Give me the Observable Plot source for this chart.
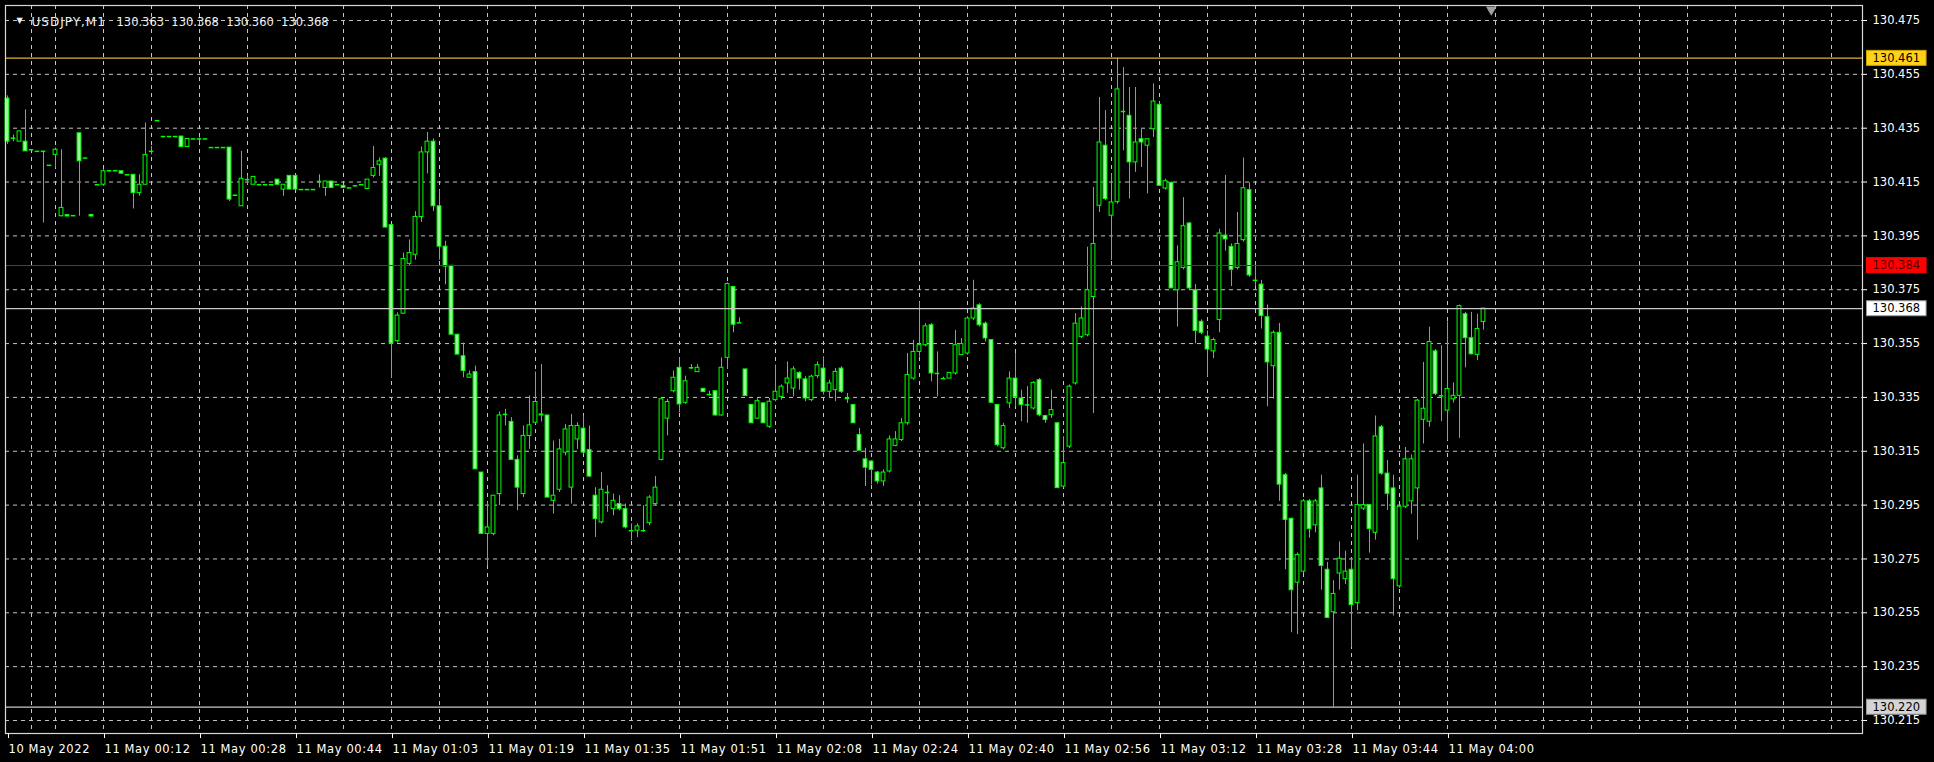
<!DOCTYPE html>
<html><head><meta charset="utf-8">
<script src="https://cdn.jsdelivr.net/npm/d3@7"></script>
<script src="https://cdn.jsdelivr.net/npm/@observablehq/plot@0.6"></script>
<style>
html,body{margin:0;padding:0;background:#000;overflow:hidden}
#chart{position:relative;width:1934px;height:762px;background:#000}
</style></head><body><div id="chart"></div>
<script>
// ---- data (USDJPY M1, one entry per bar) ----
const opens = [130.446,130.4313,130.43,130.43,130.427,130.4264,130.4264,130.4212,130.4251,130.4023,130.4027,130.4025,130.4331,130.4239,130.4028,130.414,130.414,130.4192,130.4192,130.419,130.4177,130.4177,130.4109,130.414,130.4264,130.4378,130.4319,130.4319,130.4319,130.4319,130.428,130.431,130.431,130.431,130.4278,130.4278,130.4278,130.4278,130.4101,130.406,130.4159,130.414,130.414,130.414,130.414,130.4159,130.4122,130.4173,130.4173,130.4122,130.4122,130.4122,130.4152,130.4128,130.4152,130.414,130.4136,130.4128,130.4136,130.414,130.4124,130.4173,130.4214,130.4237,130.399,130.3559,130.3661,130.3846,130.388,130.402,130.426,130.43,130.406,130.391,130.3839,130.3583,130.3503,130.3423,130.3444,130.3071,130.2843,130.2843,130.2991,130.3287,130.3259,130.3118,130.2991,130.3207,130.3256,130.3283,130.3283,130.2966,130.3007,130.3145,130.3015,130.3194,130.3234,130.3155,130.2985,130.2886,130.2997,130.2935,130.2954,130.2935,130.2855,130.2855,130.2855,130.2883,130.2954,130.3118,130.3271,130.3373,130.346,130.333,130.346,130.3444,130.3382,130.3361,130.3373,130.3283,130.3497,130.376,130.3627,130.3454,130.3322,130.3271,130.3328,130.3241,130.334,130.3352,130.3402,130.3383,130.3441,130.3417,130.334,130.3429,130.3457,130.3371,130.3377,130.3457,130.3346,130.3322,130.321,130.312,130.3112,130.3071,130.3038,130.3075,130.317,130.3192,130.3254,130.342,130.3519,130.3544,130.3618,130.3439,130.342,130.342,130.3439,130.3507,130.3513,130.3643,130.3692,130.3624,130.3563,130.3322,130.3161,130.3328,130.342,130.3346,130.3322,130.3309,130.3414,130.3281,130.3284,130.3254,130.3019,130.3167,130.3402,130.3575,130.3581,130.3723,130.4062,130.4285,130.4025,130.4075,130.4412,130.4396,130.4223,130.4309,130.4285,130.4346,130.4437,130.4126,130.4147,130.3748,130.3831,130.3996,130.3748,130.3631,130.3576,130.3521,130.3638,130.3951,130.3909,130.3831,130.3934,130.412,130.3785,130.3769,130.3648,130.3466,130.359,130.3061,130.2899,130.2662,130.2703,130.2964,130.2875,130.3012,130.271,130.2552,130.2696,130.2675,130.271,130.2586,130.2937,130.295,130.2847,130.3239,130.3067,130.3012,130.2648,130.2944,130.2964,130.3012,130.3267,130.326,130.3521,130.3356,130.3301,130.3343,130.3356,130.3659,130.357,130.3508,130.363];
const highs = [130.447,130.4325,130.4338,130.4418,130.427,130.4264,130.4264,130.4212,130.4276,130.427,130.4027,130.4025,130.4331,130.4239,130.4028,130.414,130.4196,130.4192,130.4192,130.419,130.4177,130.4177,130.4177,130.4369,130.4282,130.4378,130.4319,130.4319,130.4319,130.4319,130.431,130.431,130.4313,130.431,130.4278,130.4278,130.4278,130.4278,130.4101,130.4264,130.4173,130.4169,130.414,130.414,130.414,130.4159,130.414,130.4173,130.4173,130.4122,130.4122,130.4122,130.4177,130.4152,130.4152,130.414,130.4136,130.4128,130.4136,130.414,130.4159,130.4282,130.4239,130.424,130.399,130.3664,130.3886,130.3935,130.404,130.428,130.4334,130.431,130.412,130.393,130.3839,130.3583,130.3552,130.3448,130.3466,130.3071,130.296,130.2985,130.3296,130.3306,130.3275,130.3133,130.3244,130.3355,130.3444,130.3472,130.3283,130.3188,130.3194,130.325,130.3287,130.3256,130.3281,130.3244,130.3015,130.3071,130.3022,130.2991,130.2985,130.2954,130.288,130.288,130.2948,130.2985,130.3056,130.3345,130.3343,130.3448,130.3497,130.3429,130.3472,130.3472,130.3382,130.3373,130.3373,130.3497,130.3775,130.3762,130.3645,130.3454,130.3322,130.3345,130.3328,130.3346,130.347,130.3396,130.3482,130.3464,130.3445,130.3427,130.3433,130.3482,130.3501,130.3414,130.3457,130.3464,130.3365,130.3322,130.3235,130.3161,130.3115,130.3075,130.3081,130.3207,130.3223,130.3272,130.3513,130.3562,130.3704,130.3624,130.3624,130.3519,130.3425,130.3441,130.3599,130.3569,130.365,130.3785,130.3698,130.363,130.3563,130.3322,130.3254,130.3445,130.3513,130.3377,130.339,130.3408,130.342,130.3284,130.3377,130.3254,130.3204,130.3396,130.3661,130.3686,130.3908,130.413,130.4464,130.4415,130.418,130.461,130.4575,130.4501,130.4501,130.4346,130.4309,130.4515,130.4445,130.416,130.415,130.3913,130.4092,130.4,130.3769,130.3638,130.3597,130.357,130.3975,130.4175,130.392,130.4037,130.4239,130.4147,130.3838,130.3785,130.3693,130.3597,130.3625,130.3067,130.2902,130.2772,130.2971,130.2971,130.2971,130.3061,130.2737,130.2669,130.2813,130.2779,130.2751,130.3061,130.3177,130.295,130.3281,130.3246,130.3116,130.3061,130.295,130.3164,130.3136,130.3343,130.348,130.3611,130.3528,130.3542,130.3631,130.3404,130.3693,130.3666,130.3666,130.3659,130.368];
const lows = [130.429,130.43,130.43,130.4264,130.427,130.4264,130.3998,130.4212,130.4202,130.402,130.4022,130.4025,130.4023,130.4239,130.4022,130.414,130.4134,130.4192,130.4192,130.4181,130.4177,130.405,130.4097,130.414,130.4251,130.4378,130.4319,130.4319,130.4319,130.428,130.428,130.431,130.4297,130.431,130.4278,130.4278,130.4278,130.4078,130.4101,130.406,130.414,130.414,130.414,130.414,130.414,130.414,130.4097,130.4122,130.4122,130.4122,130.4122,130.4122,130.4128,130.4097,130.4128,130.414,130.4128,130.4128,130.4136,130.414,130.4124,130.4165,130.4171,130.398,130.342,130.3552,130.3658,130.3839,130.386,130.4,130.418,130.404,130.386,130.3768,130.3583,130.3509,130.3423,130.3423,130.3083,130.2843,130.2725,130.2836,130.2948,130.3244,130.3118,130.2929,130.2978,130.3157,130.325,130.3259,130.2978,130.2917,130.2997,130.3133,130.2954,130.3157,130.3139,130.3052,130.283,130.288,130.2923,130.291,130.2929,130.2861,130.2818,130.283,130.2849,130.2873,130.2948,130.3114,130.3207,130.3367,130.3293,130.3324,130.3454,130.3444,130.337,130.3355,130.3281,130.3281,130.3454,130.359,130.3627,130.3355,130.3254,130.3269,130.3254,130.3235,130.3334,130.334,130.3365,130.3352,130.3377,130.3334,130.3334,130.342,130.3359,130.3346,130.3334,130.3365,130.3328,130.3254,130.3152,130.3019,130.3025,130.3028,130.3019,130.3069,130.3167,130.3186,130.3247,130.3414,130.35,130.3538,130.3408,130.3352,130.342,130.342,130.3433,130.3507,130.3507,130.3636,130.3612,130.3556,130.333,130.3167,130.3155,130.3309,130.3315,130.326,130.3254,130.3303,130.3278,130.3254,130.3272,130.3013,130.3013,130.316,130.3396,130.3569,130.3575,130.329,130.4037,130.4081,130.3859,130.4068,130.4266,130.4087,130.4186,130.4204,130.4106,130.4316,130.4136,130.412,130.3755,130.3611,130.3824,130.375,130.3549,130.3583,130.3425,130.3494,130.359,130.3893,130.3762,130.3824,130.3927,130.3796,130.3762,130.3604,130.3315,130.3343,130.2964,130.271,130.2476,130.2469,130.2696,130.2827,130.2847,130.2634,130.2531,130.22,130.2634,130.2655,130.2421,130.2558,130.293,130.2772,130.282,130.3061,130.293,130.2538,130.2641,130.2937,130.2916,130.282,130.3177,130.3239,130.3356,130.326,130.3191,130.3329,130.3198,130.346,130.3508,130.3487,130.36];
const closes = [130.43,130.4313,130.4338,130.4264,130.427,130.4264,130.4264,130.4212,130.427,130.4054,130.4022,130.4025,130.4227,130.4239,130.4022,130.414,130.419,130.4192,130.4192,130.4181,130.4177,130.4109,130.414,130.4251,130.4264,130.4378,130.4319,130.4319,130.4319,130.428,130.431,130.431,130.431,130.431,130.4278,130.4278,130.4278,130.4085,130.4101,130.4162,130.4159,130.4169,130.414,130.414,130.414,130.414,130.414,130.4122,130.4122,130.4122,130.4122,130.4122,130.4152,130.4152,130.4128,130.414,130.4128,130.4128,130.4136,130.414,130.4159,130.4202,130.4227,130.3981,130.355,130.3654,130.3864,130.3886,130.402,130.426,130.43,130.406,130.391,130.3836,130.3583,130.3509,130.3448,130.3435,130.3083,130.2843,130.2867,130.2985,130.3283,130.3287,130.3118,130.3015,130.3207,130.3246,130.3333,130.3287,130.2978,130.2985,130.3157,130.3231,130.3244,130.3244,130.3145,130.3056,130.2898,130.3007,130.2997,130.2966,130.2935,130.2867,130.2855,130.2871,130.2855,130.2978,130.3015,130.3343,130.3333,130.3423,130.3324,130.341,130.346,130.346,130.337,130.3361,130.3283,130.346,130.3771,130.362,130.3627,130.3355,130.3254,130.3336,130.3254,130.3334,130.3371,130.339,130.342,130.3454,130.342,130.3346,130.3427,130.347,130.3371,130.3402,130.3445,130.3371,130.3346,130.3254,130.3152,130.3089,130.3081,130.3038,130.3071,130.3194,130.3194,130.3254,130.3433,130.3519,130.3544,130.3614,130.3439,130.3439,130.342,130.3441,130.3544,130.3548,130.3643,130.368,130.3618,130.3569,130.333,130.3173,130.3244,130.342,130.3352,130.3322,130.3322,130.3404,130.3284,130.3266,130.3303,130.3013,130.3106,130.339,130.3624,130.3643,130.3748,130.392,130.4297,130.4087,130.4074,130.4494,130.4412,130.4223,130.4297,130.4297,130.4309,130.4449,130.4136,130.4153,130.3755,130.3852,130.3986,130.3755,130.3597,130.359,130.3528,130.3563,130.3959,130.3937,130.3824,130.392,130.4127,130.3803,130.3785,130.3652,130.348,130.359,130.3026,130.2895,130.2634,130.2765,130.2964,130.2861,130.2964,130.2724,130.2531,130.262,130.2751,130.2703,130.2579,130.295,130.295,130.2861,130.3205,130.3067,130.2992,130.2675,130.2944,130.312,130.312,130.3338,130.3308,130.3556,130.3363,130.3356,130.3381,130.3356,130.3689,130.357,130.351,130.3604,130.368];

const timeLabels = ["10 May 2022","11 May 00:12","11 May 00:28","11 May 00:44","11 May 01:03","11 May 01:19","11 May 01:35","11 May 01:51","11 May 02:08","11 May 02:24","11 May 02:40","11 May 02:56","11 May 03:12","11 May 03:28","11 May 03:44","11 May 04:00"];
const barsPerLabel = 16;
const barsPerGrid = 8;
const dayStartBar = 4;
const priceTicks = [130.475,130.455,130.435,130.415,130.395,130.375,130.355,130.335,130.315,130.295,130.275,130.255,130.235,130.215];
const levelValues = [130.461, 130.384, 130.368, 130.220];
const symbol = "USDJPY,M1";

// ---- styles ----
const LIME = "#00ff00", BEAR_FILL = "#9cf59c", GRID = "#c4c4c4", TEXT = "#ffffff";
const DASH = "4,4";
const levelStroke = ["#e0b030", "#e00000", "#c8c8c8", "#c8c8c8"];
const levelBox = ["#ffd21a", "#ff0000", "#ffffff", "#d4d4d4"];
const levelBoxStroke = ["#c8a000", "#ff0000", "#9a9a9a", "#9a9a9a"];
const levelText = ["#000000", "#5a0000", "#000000", "#000000"];

const bars = opens.map((o, i) => ({i, open: o, high: highs[i], low: lows[i], close: closes[i]}));
const bodies = bars.filter(d => d.open !== d.close);
const flats = bars.filter(d => d.open === d.close);
const last = bars[bars.length - 1];
const fmt = d3.format(".3f");
const quoteText = [last.open, last.high, last.low, last.close].map(fmt).join("\u00a0\u00a0");
const n = bars.length;

const W = 1934, H = 762;
const margin = {top: 5, right: 72, bottom: 29, left: 5};
const pxPerBar = 6;
const xDomain = [-2 / pxPerBar, (W - margin.right - 7) / pxPerBar];
const yTop = 130.475 + 15 / 2692.3, yBot = 130.215 - 13 / 2692.3;

const xTicks = d3.range(0, timeLabels.length * barsPerLabel, barsPerLabel);
const gridBars = d3.range(barsPerGrid, xDomain[1], barsPerGrid);

const plot = Plot.plot({
  width: W, height: H,
  marginTop: margin.top, marginRight: margin.right, marginBottom: margin.bottom, marginLeft: margin.left,
  style: {background: "#000", color: TEXT, fontFamily: "DejaVu Sans, sans-serif", fontSize: "11.5px"},
  x: {type: "linear", domain: xDomain, axis: null, label: null},
  y: {type: "linear", domain: [yBot, yTop], axis: null, label: null},
  marks: [
    Plot.gridY(priceTicks, {stroke: GRID, strokeOpacity: 1, strokeDasharray: DASH}),
    Plot.gridX(gridBars, {stroke: GRID, strokeOpacity: 1, strokeDasharray: DASH}),
    Plot.ruleX([dayStartBar], {stroke: GRID, strokeDasharray: DASH}),
    Plot.ruleX(bars, {x: "i", y1: "low", y2: "high", stroke: LIME, strokeWidth: 1}),
    Plot.rect(bodies, {
      x1: d => d.i - 0.32, x2: d => d.i + 0.32,
      y1: d => Math.min(d.open, d.close), y2: d => Math.max(d.open, d.close),
      fill: d => d.close > d.open ? "#000000" : BEAR_FILL,
      stroke: LIME, strokeWidth: 1
    }),
    Plot.ruleY(flats, {y: "close", x1: d => d.i - 0.38, x2: d => d.i + 0.38, stroke: LIME, strokeWidth: 1.5}),
    Plot.ruleY(levelValues, {y: d => d, stroke: (d, k) => levelStroke[k], strokeWidth: 1.2}),
    Plot.frame({stroke: "#d8d8d8", strokeWidth: 1.2}),
    Plot.axisY(priceTicks, {anchor: "right", label: null, tickFormat: fmt, tickSize: 4, tickPadding: 6, color: TEXT, fontSize: 11.5}),
    Plot.axisX(xTicks, {anchor: "bottom", label: null, tickFormat: d => timeLabels[d / barsPerLabel], tickSize: 5, tickPadding: 6, textAnchor: "start", dx: 1, color: TEXT, fontSize: 11.5}),
    Plot.text(levelValues, {y: d => d, text: d => fmt(d), frameAnchor: "right", dx: 10, textAnchor: "start", fill: (d, k) => levelText[k], fontSize: 11.5}),
    Plot.text([symbol], {text: d => d, frameAnchor: "top-left", dx: 26, dy: 12, textAnchor: "start", fill: "#f0f0f0", fontSize: 12}),
    Plot.text([quoteText], {text: d => d, frameAnchor: "top-left", dx: 111, dy: 12, textAnchor: "start", fill: "#f0f0f0", fontSize: 11.5}),
    Plot.text(["\u25BC"], {text: d => d, frameAnchor: "top-left", dx: 11, dy: 12, fill: "#f0f0f0", fontSize: 8}),
    Plot.dot([n + 0.3], {x: d => d, frameAnchor: "top", dy: 4, symbol: "triangle", rotate: 180, r: 4, fill: "#a0a0a0", stroke: "none"})
  ]
});
document.getElementById("chart").append(plot);

const svg = d3.select(plot);
// wider letter spacing to match the terminal font
svg.selectAll("text").filter(function() { return this.textContent === symbol; }).attr("letter-spacing", "1px");
svg.selectAll("text").filter(function() { return timeLabels.includes(this.textContent); }).attr("letter-spacing", "0.6px");

// boxes behind the level price labels
const levelStrings = levelValues.map(fmt);
svg.selectAll("text").filter(function() { return levelStrings.includes(this.textContent); }).each(function() {
  const node = this;
  const k = levelStrings.indexOf(node.textContent);
  const b = node.getBBox();
  const rect = document.createElementNS("http://www.w3.org/2000/svg", "rect");
  const t = node.getAttribute("transform");
  if (t) rect.setAttribute("transform", t);
  rect.setAttribute("x", b.x - 6);
  rect.setAttribute("y", b.y - 0.5);
  rect.setAttribute("width", b.width + 12);
  rect.setAttribute("height", b.height + 1);
  rect.setAttribute("fill", levelBox[k]);
  rect.setAttribute("stroke", levelBoxStroke[k]);
  node.parentNode.insertBefore(rect, node);
});
</script></body></html>
